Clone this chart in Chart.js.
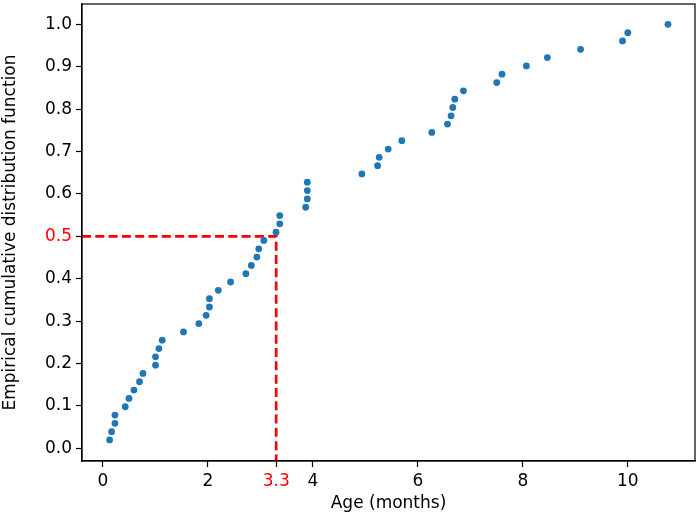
<!DOCTYPE html>
<html>
<head>
<meta charset="utf-8">
<script src="https://cdn.jsdelivr.net/npm/chart.js@4.4.1/dist/chart.umd.min.js"></script>
<style>
  html, body { margin: 0; padding: 0; background: #fff; }
  #wrap { width: 699px; height: 515px; position: relative; }
</style>
</head>
<body>
<div id="wrap"><canvas id="c"></canvas></div>
<script>
// Age (months) of each observation, sorted
const ageMonths = [
  0.126, 0.164, 0.228, 0.228, 0.424, 0.495, 0.590, 0.696, 0.761, 1.001,
  1.001, 1.065, 1.128, 1.533, 1.826, 1.965, 2.028, 2.028, 2.197, 2.431,
  2.723, 2.827, 2.932, 2.968, 3.065, 3.297, 3.368, 3.368, 3.862, 3.893,
  3.893, 3.893, 4.933, 5.232, 5.263, 5.434, 5.694, 6.265, 6.564, 6.632,
  6.665, 6.703, 6.868, 7.502, 7.603, 8.067, 8.467, 9.100, 9.899, 10.000,
  10.765
];
// Empirical CDF value of each observation
const ecdfValues = [
  0.0196, 0.0392, 0.0588, 0.0784, 0.0980, 0.1176, 0.1373, 0.1569, 0.1765, 0.1961,
  0.2157, 0.2353, 0.2549, 0.2745, 0.2941, 0.3137, 0.3333, 0.3529, 0.3725, 0.3922,
  0.4118, 0.4314, 0.4510, 0.4706, 0.4902, 0.5098, 0.5294, 0.5490, 0.5686, 0.5882,
  0.6078, 0.6275, 0.6471, 0.6667, 0.6863, 0.7059, 0.7255, 0.7451, 0.7647, 0.7843,
  0.8039, 0.8235, 0.8431, 0.8627, 0.8824, 0.9020, 0.9216, 0.9412, 0.9608, 0.9804,
  1.0000
];
// Median marker
const medianAge = 3.3;
const medianProb = 0.5;
// Tick labels
const xTicks = [0, 2, 3.3, 4, 6, 8, 10];
const yTicks = [0.0, 0.1, 0.2, 0.3, 0.4, 0.5, 0.6, 0.7, 0.8, 0.9, 1.0];
// Axis ranges
const xRange = [-0.40, 11.28];
const yRange = [-0.030, 1.048];

const points = ageMonths.map((x, i) => ({ x: x, y: ecdfValues[i] }));
const medianPath = [
  { x: xRange[0], y: medianProb },
  { x: medianAge, y: medianProb },
  { x: medianAge, y: yRange[0] }
];

const FONT = "'DejaVu Sans', sans-serif";

const frame = {
  id: 'frame',
  afterDatasetsDraw(chart) {
    const a = chart.chartArea, ctx = chart.ctx;
    ctx.save();
    ctx.strokeStyle = '#000';
    ctx.lineWidth = 1.2;
    ctx.strokeRect(a.left, a.top, a.right - a.left, a.bottom - a.top);
    ctx.restore();
  }
};

function noEdgePadding(s) {
  s.paddingTop = 0; s.paddingBottom = 0; s.paddingLeft = 0; s.paddingRight = 0;
}

new Chart(document.getElementById('c'), {
  type: 'scatter',
  data: {
    datasets: [
      {
        label: 'median',
        data: medianPath,
        showLine: true,
        borderColor: '#ff0000',
        borderWidth: 2.7,
        borderDash: [9, 4.3],
        pointRadius: 0,
        fill: false,
        order: 2
      },
      {
        label: 'ECDF',
        data: points,
        backgroundColor: '#1f77b4',
        borderColor: '#1f77b4',
        borderWidth: 0,
        pointRadius: 3.4,
        order: 1
      }
    ]
  },
  plugins: [frame],
  options: {
    responsive: true,
    maintainAspectRatio: false,
    animation: false,
    devicePixelRatio: 1,
    layout: { padding: { left: 0, top: 3, right: 3, bottom: 0 } },
    plugins: { legend: { display: false }, tooltip: { enabled: false } },
    scales: {
      x: {
        type: 'linear',
        min: xRange[0],
        max: xRange[1],
        afterBuildTicks(s) { s.ticks = xTicks.map(v => ({ value: v })); },
        afterFit(s) { s.height = 54; noEdgePadding(s); },
        border: { display: true, color: '#000', width: 1.2 },
        grid: { display: true, drawOnChartArea: false, drawTicks: true, tickLength: 6, tickColor: '#000', tickWidth: 1.2 },
        ticks: {
          autoSkip: false,
          maxRotation: 0,
          padding: 4,
          font: { family: FONT, size: 17 },
          color: (c) => (c.tick && c.tick.value === medianAge) ? '#ff0000' : '#000',
          callback: (v) => String(v)
        },
        title: {
          display: true,
          text: 'Age (months)',
          font: { family: FONT, size: 17 },
          color: '#000',
          padding: { top: 0, bottom: 1 }
        }
      },
      y: {
        type: 'linear',
        min: yRange[0],
        max: yRange[1],
        afterBuildTicks(s) { s.ticks = yTicks.map(v => ({ value: v })); },
        afterFit(s) { s.width = 82; noEdgePadding(s); },
        border: { display: true, color: '#000', width: 1.2 },
        grid: { display: true, drawOnChartArea: false, drawTicks: true, tickLength: 6, tickColor: '#000', tickWidth: 1.2 },
        ticks: {
          autoSkip: false,
          padding: 4,
          font: { family: FONT, size: 17 },
          color: (c) => (c.tick && Math.abs(c.tick.value - medianProb) < 1e-9) ? '#ff0000' : '#000',
          callback: (v) => Number(v).toFixed(1)
        },
        title: {
          display: true,
          text: 'Empirical cumulative distribution function',
          font: { family: FONT, size: 17 },
          color: '#000',
          padding: { top: 0, bottom: 0 }
        }
      }
    }
  }
});
</script>
</body>
</html>
